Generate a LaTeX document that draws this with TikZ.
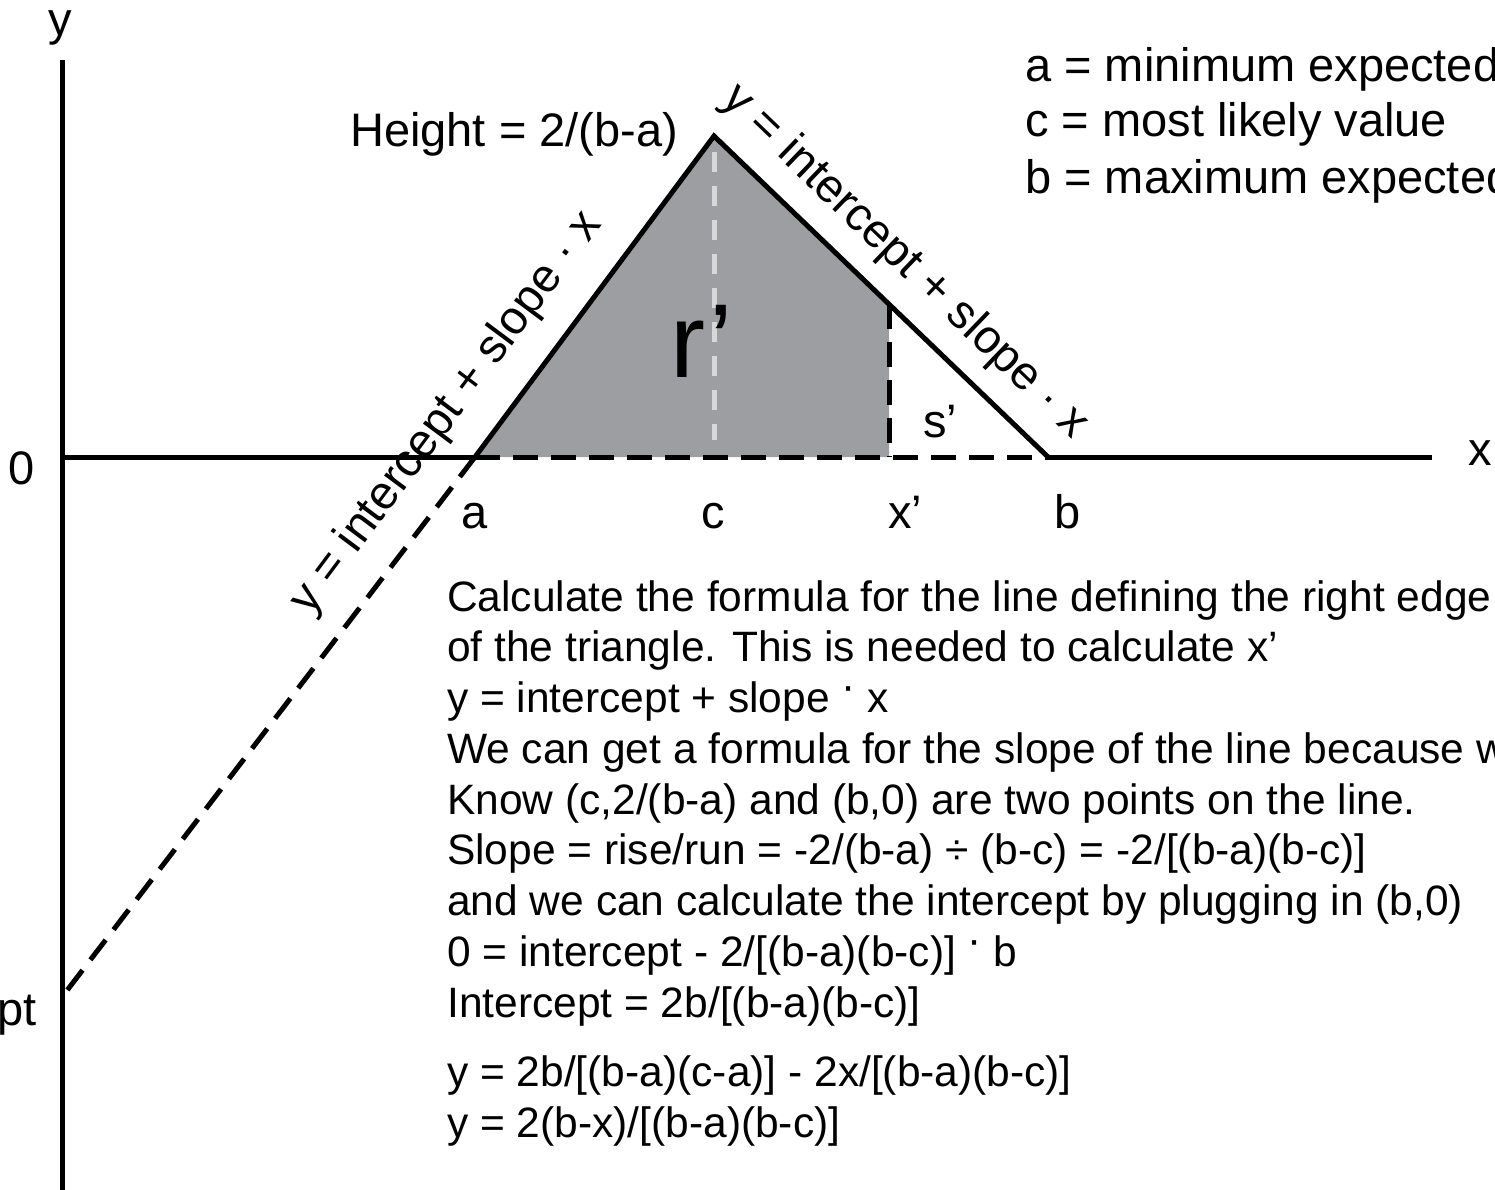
\documentclass[tikz,border=0pt]{standalone}
\usepackage{fontspec}
\setmainfont{Liberation Sans}
\newcommand{\mydotup}{\raisebox{0.28em}{·}}
\definecolor{fillgray}{HTML}{9D9EA1}
\definecolor{lightdash}{HTML}{D8D8D8}
\begin{document}
\begin{tikzpicture}[x=1pt,y=-1pt,
  axisline/.style={line width=5pt, black},
  edgeline/.style={line width=5pt, black, line join=miter},
  blackdash/.style={line width=5pt, black, dash pattern=on 25pt off 13pt},
  greydash/.style={line width=5pt, lightdash, dash pattern=on 20pt off 14pt},
  lbl/.style={font=\fontsize{47}{56}\selectfont, inner sep=0pt},
  body/.style={font=\fontsize{42.5}{51}\selectfont, inner sep=0pt, anchor=base west}]
\useasboundingbox (0,0) rectangle (1495,1190);
\clip (0,0) rectangle (1495,1190);
% points
\coordinate (O) at (62,457);
\coordinate (Ytop) at (62,60);
\coordinate (Ybot) at (62,1195);
\coordinate (Xend) at (1432,457);
\coordinate (A) at (475,457);
\coordinate (C) at (714,136);
\coordinate (B) at (1048,457);
\coordinate (Xp) at (889,304);
\coordinate (Xpb) at (889,457);
\coordinate (Ct) at (714,152);
\coordinate (Cb) at (714,440);
\coordinate (I) at (62,997);
% fill
\fill[fillgray] (A) -- (C) -- (Xp) -- (Xpb) -- cycle;
\draw[greydash] (Ct) -- (Cb);
\draw[blackdash] (Xp) -- (Xpb);
\draw[blackdash] (A) -- (B);
\draw[blackdash] (A) -- (I);
% axes
\draw[axisline] (Ytop) -- (Ybot);
\draw[axisline] (O) -- (A);
\draw[axisline] (B) -- (Xend);
\draw[edgeline] (A) -- (C) -- (B);
% axis labels
\node[lbl, anchor=base] (ylab) at (60,36) {y};
\node[lbl, anchor=base] (xlab) at (1480,465) {x};
\node[lbl, anchor=base] (zero) at (22,484) {0};
\node[lbl, anchor=base east] (intlab) at (37,1025) {intercept};
\node[lbl, anchor=base] (alab) at (475,528) {a};
\node[lbl, anchor=base] (clab) at (713,528) {c};
\node[lbl, anchor=base] (xplab) at (905,528) {x’};
\node[lbl, anchor=base] (blab) at (1068,528) {b};
\node[lbl, anchor=base west] (height) at (350,147) {Height = 2/(b-a)};
\node[lbl, anchor=base west, font=\fontsize{105}{120}\selectfont] (rlab) at (670,377) {r’};
\node[lbl, anchor=base] (slab) at (940,437) {s’};
% sloped labels
\node[lbl, rotate=53.3] (leftline) at (447,413) {y = intercept + slope · x};
\node[lbl, rotate=-43.9] (rightline) at (905,262) {y = intercept + slope · x};
% legend
\node[lbl, anchor=base west] (la) at (1025,82) {a = minimum expected value};
\node[lbl, anchor=base west] (lc) at (1025,137) {c = most likely value};
\node[lbl, anchor=base west] (lb) at (1025,194) {b = maximum expected value};
% explanation
\node[body] (t1) at (447,611) {Calculate the formula for the line defining the right edge};
\node[body] (t2) at (447,661) {of the triangle. This is needed to calculate x’};
\node[body] (t3) at (447,712) {y = intercept + slope \mydotup{} x};
\node[body] (t4) at (447,763) {We can get a formula for the slope of the line because we};
\node[body] (t5) at (447,814) {Know (c,2/(b-a) and (b,0) are two points on the line.};
\node[body] (t6) at (447,864) {Slope = rise/run = -2/(b-a) ÷ (b-c) = -2/[(b-a)(b-c)]};
\node[body] (t7) at (447,915) {and we can calculate the intercept by plugging in (b,0)};
\node[body] (t8) at (447,966) {0 = intercept - 2/[(b-a)(b-c)] \mydotup{} b};
\node[body] (t9) at (447,1017) {Intercept = 2b/[(b-a)(b-c)]};
\node[body] (t10) at (447,1086) {y = 2b/[(b-a)(c-a)] - 2x/[(b-a)(b-c)]};
\node[body] (t11) at (447,1137) {y = 2(b-x)/[(b-a)(b-c)]};
\end{tikzpicture}
\end{document}
